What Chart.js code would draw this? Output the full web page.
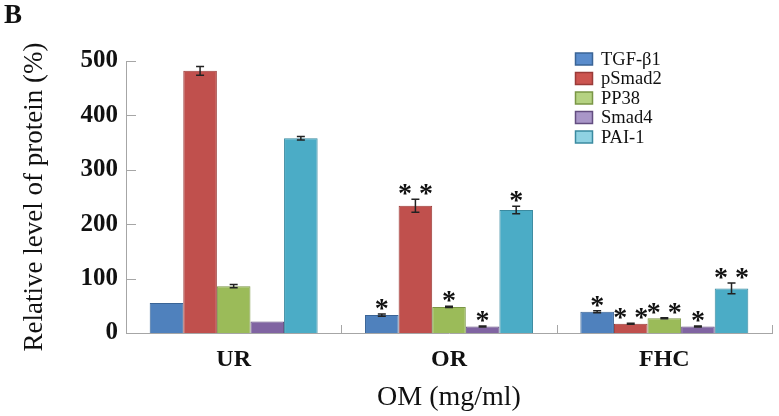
<!DOCTYPE html>
<html>
<head>
<meta charset="utf-8">
<script src="https://cdn.jsdelivr.net/npm/chart.js@4"></script>
<style>
  html, body { margin: 0; padding: 0; background: #ffffff; }
</style>
</head>
<body>
<canvas id="proteinChart" width="779" height="416"></canvas>
<script>
// groups and series
var groups = ['UR', 'OR', 'FHC'];
var proteins = ['TGF-β1', 'pSmad2', 'PP38', 'Smad4', 'PAI-1'];

// values (%)
var tgfValues = [55, 33, 39];
var psmadValues = [482, 234, 17];
var pp38Values = [86, 48, 27];
var smad4Values = [21, 12, 12];
var paiValues = [358, 226, 82];

// error bar half-widths
var tgfErrors = [0, 2, 2];
var psmadErrors = [8, 12, 1];
var pp38Errors = [3, 1, 1];
var smad4Errors = [0, 1, 1];
var paiErrors = [3, 7, 10];

// significance marks
var tgfStars = ['', '*', '*'];
var psmadStars = ['', '**', '**'];
var pp38Stars = ['', '*', '**'];
var smad4Stars = ['', '*', '*'];
var paiStars = ['', '*', '**'];

var yTicks = [0, 100, 200, 300, 400, 500];

var fillColors = ['#4f81bd', '#c0504d', '#9bbb59', '#8064a2', '#4bacc6'];
var edgeColors = ['#3a6496', '#9a3b38', '#7a9645', '#634d80', '#3a8aa0'];
var legendFills = ['#5a8ccc', '#cc5550', '#b5d282', '#a996c8', '#8fd2e2'];

var allValues = [tgfValues, psmadValues, pp38Values, smad4Values, paiValues];
var allErrors = [tgfErrors, psmadErrors, pp38Errors, smad4Errors, paiErrors];
var allStars = [tgfStars, psmadStars, pp38Stars, smad4Stars, paiStars];

var serif = "'Liberation Serif', 'Times New Roman', serif";

var datasets = proteins.map(function (name, i) {
    return {
        label: name,
        data: allValues[i],
        backgroundColor: fillColors[i],
        borderColor: edgeColors[i],
        borderWidth: 1,
        categoryPercentage: 0.78,
        barPercentage: 1.0
    };
});

// draws inward tick marks, error bars, stars, legend and panel letter
var decorPlugin = {
    id: 'decor',
    afterDatasetsDraw: function (chart) {
        var ctx = chart.ctx;
        var y = chart.scales.y;
        var area = chart.chartArea;
        ctx.save();

        // y tick marks pointing inward
        ctx.strokeStyle = '#a6a6a6';
        ctx.lineWidth = 1;
        yTicks.forEach(function (v) {
            var py = Math.round(y.getPixelForValue(v)) + 0.5;
            ctx.beginPath();
            ctx.moveTo(area.left, py);
            ctx.lineTo(area.left + 10, py);
            ctx.stroke();
        });
        // x tick marks between groups
        var step = (area.right - area.left) / groups.length;
        for (var k = 1; k <= groups.length; k++) {
            var px = Math.round(area.left + step * k) + 0.5;
            ctx.beginPath();
            ctx.moveTo(px, area.bottom);
            ctx.lineTo(px, area.bottom - 8);
            ctx.stroke();
        }

        // error bars and stars
        chart.data.datasets.forEach(function (ds, i) {
            var meta = chart.getDatasetMeta(i);
            meta.data.forEach(function (bar, j) {
                var v = allValues[i][j];
                var e = allErrors[i][j];
                var top = y.getPixelForValue(v + e);
                if (e > 0) {
                    var bot = y.getPixelForValue(v - e);
                    ctx.strokeStyle = '#222222';
                    ctx.lineWidth = 1.5;
                    ctx.beginPath();
                    ctx.moveTo(bar.x, top);
                    ctx.lineTo(bar.x, bot);
                    ctx.moveTo(bar.x - 4, top);
                    ctx.lineTo(bar.x + 4, top);
                    ctx.moveTo(bar.x - 4, bot);
                    ctx.lineTo(bar.x + 4, bot);
                    ctx.stroke();
                }
                var s = allStars[i][j];
                if (s) {
                    ctx.fillStyle = '#111111';
                    ctx.font = 'bold 28px ' + serif;
                    ctx.textAlign = 'center';
                    ctx.textBaseline = 'alphabetic';
                    var txt = s.split('').join(' ');
                    ctx.fillText(txt, bar.x, top + 3);
                }
            });
        });

        // legend
        ctx.font = '18.5px ' + serif;
        ctx.textAlign = 'left';
        ctx.textBaseline = 'middle';
        proteins.forEach(function (name, i) {
            var cy = 59 + i * 19.5;
            ctx.fillStyle = legendFills[i];
            ctx.fillRect(575.5, cy - 6, 17, 12);
            ctx.strokeStyle = edgeColors[i];
            ctx.lineWidth = 1.5;
            ctx.strokeRect(575.5, cy - 6, 17, 12);
            ctx.fillStyle = '#111111';
            ctx.fillText(name, 601, cy + 1);
        });

        // panel letter
        ctx.font = 'bold 27px ' + serif;
        ctx.textBaseline = 'alphabetic';
        ctx.fillText('B', 4, 23);
        ctx.restore();
    }
};

var ctx = document.getElementById('proteinChart').getContext('2d');
var proteinChart = new Chart(ctx, {
    type: 'bar',
    data: {
        labels: groups,
        datasets: datasets
    },
    plugins: [decorPlugin],
    options: {
        responsive: false,
        animation: false,
        layout: {
            padding: { top: 61, right: 7, left: 0, bottom: 0 }
        },
        plugins: {
            legend: { display: false },
            tooltip: { enabled: false }
        },
        scales: {
            x: {
                grid: { display: false, drawTicks: false },
                border: { display: true, color: '#a6a6a6', width: 1 },
                ticks: {
                    color: '#111111',
                    padding: 12,
                    font: { family: serif, size: 24, weight: 'bold' }
                },
                title: {
                    display: true,
                    text: 'OM (mg/ml)',
                    color: '#111111',
                    font: { family: serif, size: 28 },
                    padding: { top: 0, bottom: 2 }
                },
                afterFit: function (scale) { scale.height = 83; }
            },
            y: {
                min: 0,
                max: 500,
                grid: { display: false, drawTicks: false },
                border: { display: true, color: '#a6a6a6', width: 1 },
                afterBuildTicks: function (scale) {
                    scale.ticks = yTicks.map(function (v) { return { value: v }; });
                },
                ticks: {
                    color: '#111111',
                    padding: 8,
                    font: { family: serif, size: 25, weight: 'bold' }
                },
                title: {
                    display: true,
                    text: 'Relative level of protein (%)',
                    color: '#111111',
                    font: { family: serif, size: 27 },
                    padding: { top: 19, bottom: 0 }
                },
                afterFit: function (scale) { scale.width = 126; }
            }
        }
    }
});
</script>
</body>
</html>
